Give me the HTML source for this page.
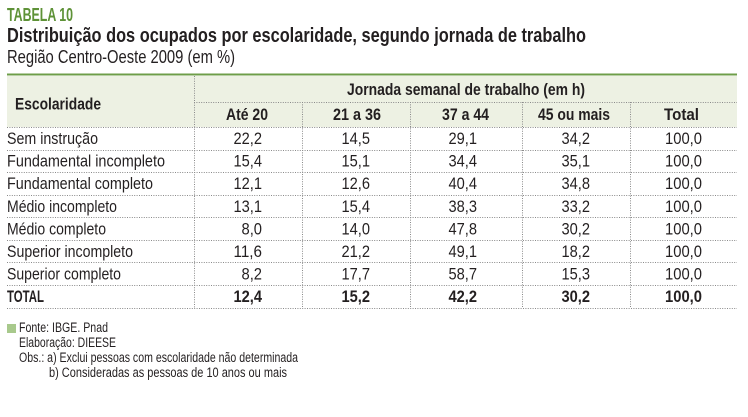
<!DOCTYPE html>
<html><head><meta charset="utf-8"><style>
html,body{margin:0;padding:0;background:#fff;width:748px;height:417px;overflow:hidden}
svg{display:block}
text{font-family:"Liberation Sans",sans-serif;fill:#231f20}
.b{font-weight:bold}
.n{font-size:17px;text-anchor:end}
.l{font-size:17px}
.h{font-size:17px;font-weight:bold}
.f{font-size:13.5px}
</style></head><body>
<svg width="748" height="417" viewBox="0 0 748 417" xmlns="http://www.w3.org/2000/svg">
<text x="7" y="21" class="b" style="font-size:18.5px;fill:#5e9237" textLength="66" lengthAdjust="spacingAndGlyphs">TABELA 10</text>
<text x="7" y="42" class="b" style="font-size:20px" textLength="579" lengthAdjust="spacingAndGlyphs">Distribuição dos ocupados por escolaridade, segundo jornada de trabalho</text>
<text x="7" y="63" style="font-size:18px" textLength="228" lengthAdjust="spacingAndGlyphs">Região Centro-Oeste 2009 (em %)</text>

<rect x="7" y="76" width="730" height="51" fill="#edf1e3"/>
<line x1="7" y1="74.5" x2="737" y2="74.5" stroke="#6e9e48" stroke-width="2"/>

<g stroke="#8a8a8a" stroke-width="1" stroke-dasharray="1 1.4">
<line x1="194" y1="102.5" x2="737" y2="102.5"/>
<line x1="7" y1="127.5" x2="737" y2="127.5"/>
<line x1="7" y1="150.5" x2="737" y2="150.5"/>
<line x1="7" y1="172.5" x2="737" y2="172.5"/>
<line x1="7" y1="195.5" x2="737" y2="195.5"/>
<line x1="7" y1="217.5" x2="737" y2="217.5"/>
<line x1="7" y1="240.5" x2="737" y2="240.5"/>
<line x1="7" y1="262.5" x2="737" y2="262.5"/>
<line x1="7" y1="285.5" x2="737" y2="285.5"/>
<line x1="7" y1="308.5" x2="737" y2="308.5"/>
<line x1="194.5" y1="76" x2="194.5" y2="308"/>
<line x1="302.5" y1="102" x2="302.5" y2="308"/>
<line x1="410.5" y1="102" x2="410.5" y2="308"/>
<line x1="522.5" y1="102" x2="522.5" y2="308"/>
<line x1="630.5" y1="102" x2="630.5" y2="308"/>
</g>

<text x="15" y="109.5" class="h" textLength="86" lengthAdjust="spacingAndGlyphs">Escolaridade</text>
<text x="347" y="95" class="h" textLength="238" lengthAdjust="spacingAndGlyphs">Jornada semanal de trabalho (em h)</text>
<text x="226" y="120" class="h" textLength="42" lengthAdjust="spacingAndGlyphs">Até 20</text>
<text x="333" y="120" class="h" textLength="48" lengthAdjust="spacingAndGlyphs">21 a 36</text>
<text x="442" y="120" class="h" textLength="47" lengthAdjust="spacingAndGlyphs">37 a 44</text>
<text x="538" y="120" class="h" textLength="72" lengthAdjust="spacingAndGlyphs">45 ou mais</text>
<text x="664" y="120" class="h" textLength="35" lengthAdjust="spacingAndGlyphs">Total</text>

<g>
<text x="7" y="144" class="l" textLength="91" lengthAdjust="spacingAndGlyphs">Sem instrução</text>
<text x="7" y="166.6" class="l" textLength="158" lengthAdjust="spacingAndGlyphs">Fundamental incompleto</text>
<text x="7" y="189.2" class="l" textLength="146" lengthAdjust="spacingAndGlyphs">Fundamental completo</text>
<text x="7" y="211.8" class="l" textLength="110" lengthAdjust="spacingAndGlyphs">Médio incompleto</text>
<text x="7" y="234.4" class="l" textLength="99" lengthAdjust="spacingAndGlyphs">Médio completo</text>
<text x="7" y="257" class="l" textLength="126" lengthAdjust="spacingAndGlyphs">Superior incompleto</text>
<text x="7" y="279.6" class="l" textLength="114" lengthAdjust="spacingAndGlyphs">Superior completo</text>
<text x="7" y="302.2" class="l b" textLength="37" lengthAdjust="spacingAndGlyphs">TOTAL</text>
</g>

<g>
<text class="n" x="262" y="144" textLength="28.5" lengthAdjust="spacingAndGlyphs">22,2</text><text class="n" x="370" y="144" textLength="28.5" lengthAdjust="spacingAndGlyphs">14,5</text><text class="n" x="477" y="144" textLength="28.5" lengthAdjust="spacingAndGlyphs">29,1</text><text class="n" x="590" y="144" textLength="28.5" lengthAdjust="spacingAndGlyphs">34,2</text><text class="n" x="702" y="144" textLength="37" lengthAdjust="spacingAndGlyphs">100,0</text>
<text class="n" x="262" y="166.6" textLength="28.5" lengthAdjust="spacingAndGlyphs">15,4</text><text class="n" x="370" y="166.6" textLength="28.5" lengthAdjust="spacingAndGlyphs">15,1</text><text class="n" x="477" y="166.6" textLength="28.5" lengthAdjust="spacingAndGlyphs">34,4</text><text class="n" x="590" y="166.6" textLength="28.5" lengthAdjust="spacingAndGlyphs">35,1</text><text class="n" x="702" y="166.6" textLength="37" lengthAdjust="spacingAndGlyphs">100,0</text>
<text class="n" x="262" y="189.2" textLength="28.5" lengthAdjust="spacingAndGlyphs">12,1</text><text class="n" x="370" y="189.2" textLength="28.5" lengthAdjust="spacingAndGlyphs">12,6</text><text class="n" x="477" y="189.2" textLength="28.5" lengthAdjust="spacingAndGlyphs">40,4</text><text class="n" x="590" y="189.2" textLength="28.5" lengthAdjust="spacingAndGlyphs">34,8</text><text class="n" x="702" y="189.2" textLength="37" lengthAdjust="spacingAndGlyphs">100,0</text>
<text class="n" x="262" y="211.8" textLength="28.5" lengthAdjust="spacingAndGlyphs">13,1</text><text class="n" x="370" y="211.8" textLength="28.5" lengthAdjust="spacingAndGlyphs">15,4</text><text class="n" x="477" y="211.8" textLength="28.5" lengthAdjust="spacingAndGlyphs">38,3</text><text class="n" x="590" y="211.8" textLength="28.5" lengthAdjust="spacingAndGlyphs">33,2</text><text class="n" x="702" y="211.8" textLength="37" lengthAdjust="spacingAndGlyphs">100,0</text>
<text class="n" x="262" y="234.4" textLength="20.5" lengthAdjust="spacingAndGlyphs">8,0</text><text class="n" x="370" y="234.4" textLength="28.5" lengthAdjust="spacingAndGlyphs">14,0</text><text class="n" x="477" y="234.4" textLength="28.5" lengthAdjust="spacingAndGlyphs">47,8</text><text class="n" x="590" y="234.4" textLength="28.5" lengthAdjust="spacingAndGlyphs">30,2</text><text class="n" x="702" y="234.4" textLength="37" lengthAdjust="spacingAndGlyphs">100,0</text>
<text class="n" x="262" y="257" textLength="28.5" lengthAdjust="spacingAndGlyphs">11,6</text><text class="n" x="370" y="257" textLength="28.5" lengthAdjust="spacingAndGlyphs">21,2</text><text class="n" x="477" y="257" textLength="28.5" lengthAdjust="spacingAndGlyphs">49,1</text><text class="n" x="590" y="257" textLength="28.5" lengthAdjust="spacingAndGlyphs">18,2</text><text class="n" x="702" y="257" textLength="37" lengthAdjust="spacingAndGlyphs">100,0</text>
<text class="n" x="262" y="279.6" textLength="20.5" lengthAdjust="spacingAndGlyphs">8,2</text><text class="n" x="370" y="279.6" textLength="28.5" lengthAdjust="spacingAndGlyphs">17,7</text><text class="n" x="477" y="279.6" textLength="28.5" lengthAdjust="spacingAndGlyphs">58,7</text><text class="n" x="590" y="279.6" textLength="28.5" lengthAdjust="spacingAndGlyphs">15,3</text><text class="n" x="702" y="279.6" textLength="37" lengthAdjust="spacingAndGlyphs">100,0</text>
<text class="n b" x="262" y="302.2" textLength="28.5" lengthAdjust="spacingAndGlyphs">12,4</text><text class="n b" x="370" y="302.2" textLength="28.5" lengthAdjust="spacingAndGlyphs">15,2</text><text class="n b" x="477" y="302.2" textLength="28.5" lengthAdjust="spacingAndGlyphs">42,2</text><text class="n b" x="590" y="302.2" textLength="28.5" lengthAdjust="spacingAndGlyphs">30,2</text><text class="n b" x="702" y="302.2" textLength="37" lengthAdjust="spacingAndGlyphs">100,0</text>
</g>

<rect x="7" y="324" width="9" height="9" fill="#a8c98c"/>
<text x="19" y="332" class="f" textLength="89" lengthAdjust="spacingAndGlyphs">Fonte: IBGE. Pnad</text>
<text x="19" y="347" class="f" textLength="97" lengthAdjust="spacingAndGlyphs">Elaboração: DIEESE</text>
<text x="19" y="362" class="f" textLength="279" lengthAdjust="spacingAndGlyphs">Obs.: a) Exclui pessoas com escolaridade não determinada</text>
<text x="49" y="377" class="f" textLength="238" lengthAdjust="spacingAndGlyphs">b) Consideradas as pessoas de 10 anos ou mais</text>
</svg>
</body></html>
